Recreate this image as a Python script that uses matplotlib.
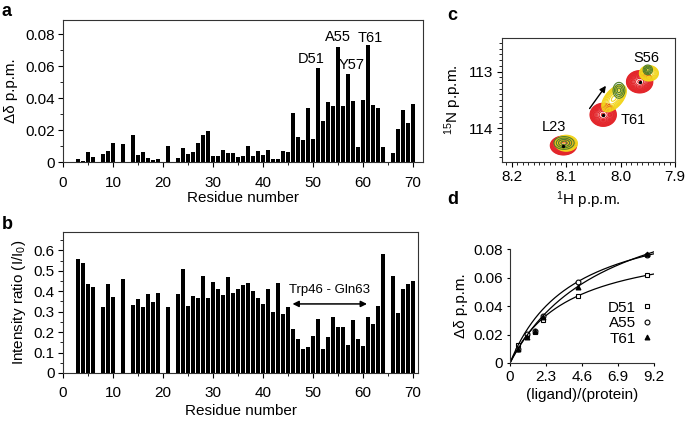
import numpy as np
import matplotlib.pyplot as plt
from matplotlib.ticker import MultipleLocator

plt.rcParams['font.family'] = ['Liberation Sans', 'DejaVu Sans']
plt.rcParams['mathtext.fontset'] = 'custom'
plt.rcParams['mathtext.rm'] = 'Liberation Sans'
plt.rcParams['mathtext.it'] = 'Liberation Sans:italic'
plt.rcParams['font.size'] = 11

# ---- panel a: chemical shift perturbation per residue ----
shift_res = [3, 4, 5, 6, 8, 9, 10, 12, 14, 15, 16, 17, 18, 19, 21, 23, 24, 25, 26, 27,
             28, 29, 30, 31, 32, 33, 34, 35, 36, 37, 38, 39, 40, 41, 42, 43, 44, 45, 46, 47,
             48, 49, 50, 51, 52, 53, 54, 55, 56, 57, 58, 59, 60, 61, 62, 63, 64, 66, 67, 68,
             69, 70]
shift_val = [0.002, 0.0007, 0.006, 0.003, 0.005, 0.007, 0.012, 0.011, 0.017, 0.0045, 0.006,
             0.0025, 0.0015, 0.002, 0.010, 0.0025, 0.0085, 0.005, 0.006, 0.012, 0.017, 0.0195,
             0.0038, 0.004, 0.0075, 0.0057, 0.0057, 0.003, 0.004, 0.010, 0.0035, 0.007, 0.0045,
             0.0073, 0.002, 0.002, 0.0068, 0.0063, 0.0306, 0.0157, 0.014, 0.0337, 0.0145, 0.0587,
             0.0258, 0.0373, 0.0352, 0.0723, 0.0352, 0.0551, 0.0383, 0.0096, 0.039, 0.0731,
             0.0358, 0.0341, 0.0092, 0.0059, 0.0205, 0.0329, 0.0247, 0.0366]
peak_labels = ['D51', 'A55', 'Y57', 'T61']
peak_label_x = [49.7, 55.0, 57.8, 61.5]
peak_label_y = [0.0647, 0.0783, 0.0605, 0.078]

# ---- panel b: intensity ratio per residue ----
ratio_res = [3, 4, 5, 6, 8, 9, 10, 12, 14, 15, 16, 17, 18, 19, 21, 23, 24, 25, 26, 27,
             28, 29, 30, 31, 32, 33, 34, 35, 36, 37, 38, 39, 40, 41, 42, 43, 44, 45, 46, 47,
             48, 49, 50, 51, 52, 53, 54, 55, 56, 57, 58, 59, 60, 61, 62, 63, 64, 66, 67, 68,
             69, 70]
ratio_val = [0.557, 0.536, 0.435, 0.42, 0.325, 0.436, 0.373, 0.462, 0.333, 0.361, 0.322,
             0.389, 0.346, 0.392, 0.325, 0.387, 0.508, 0.328, 0.376, 0.366, 0.475, 0.366,
             0.444, 0.412, 0.384, 0.47, 0.39, 0.41, 0.431, 0.44, 0.399, 0.368, 0.338, 0.412,
             0.30, 0.441, 0.289, 0.322, 0.214, 0.168, 0.119, 0.127, 0.183, 0.266, 0.119, 0.175,
             0.276, 0.224, 0.225, 0.137, 0.261, 0.168, 0.131, 0.276, 0.242, 0.328, 0.58, 0.475,
             0.294, 0.412, 0.436, 0.451]
region_start, region_end, region_y = 45.9, 60.8, 0.338

# ---- panel c: HSQC peaks (1H ppm, 15N ppm, sd H, sd N, correlation) ----
red_peaks = [(8.105, 114.30, 0.0105, 0.072, 0.0),
             (8.032, 113.76, 0.0105, 0.088, 0.0),
             (7.965, 113.18, 0.0105, 0.085, 0.0)]
yellow_peaks = [(8.100, 114.26, 0.0100, 0.068, 0.0),
                (8.012, 113.47, 0.0110, 0.115, 0.55),
                (7.948, 113.03, 0.0085, 0.066, 0.0)]
green_peaks = [(8.104, 114.255, 0.0120, 0.072, 0.0),
               (8.003, 113.33, 0.0070, 0.090, 0.0),
               (7.950, 112.97, 0.0055, 0.055, 0.0)]
spec_colors = ['#e3262b', '#f2d51c', '#4f7f2c']
spec_levels = [np.geomspace(0.07, 0.95, 14), np.geomspace(0.12, 0.9, 8), np.linspace(0.3, 0.9, 4)]
hsqc_labels = ['L23', 'T61', 'S56']
hsqc_label_pos = [(8.123, 113.97), (7.977, 113.85), (7.953, 112.76)]

# ---- panel d: titration ----
ratio = [0.53, 1.06, 1.60, 2.13, 4.32, 8.77]
titr_names = ['D51', 'A55', 'T61']
titr_vals = [[0.0125, 0.020, 0.022, 0.030, 0.047, 0.0616],
             [0.010, 0.0207, 0.0226, 0.033, 0.057, 0.0755],
             [0.010, 0.018, 0.0224, 0.0325, 0.0536, 0.0765]]
fit_dmax = [0.0882, 0.1103, 0.1307]
fit_kd = [3.79, 4.04, 6.21]
titr_markers = ['s', 'o', '^']
titr_faces = ['white', 'white', 'black']

W, H = 685, 422
fig = plt.figure(figsize=(W / 100, H / 100), dpi=100)


def px_axes(left, top, right, bottom):
    return fig.add_axes([left / W, 1 - bottom / H, (right - left) / W, (bottom - top) / H])


def style(ax):
    for s in ax.spines.values():
        s.set_linewidth(0.8)
        s.set_color('#333333')
    ax.tick_params(which='major', direction='out', length=3.5, width=0.8, labelsize=11, pad=2.5)
    ax.tick_params(which='minor', direction='out', length=2, width=0.6)


# a
ax = px_axes(63, 20, 423, 162)
ax.bar(shift_res, shift_val, width=0.68, color='black')
ax.set_xlim(0, 72)
ax.set_ylim(0, 0.089)
ax.set_xticks(range(0, 71, 10))
ax.set_yticks([0, 0.02, 0.04, 0.06, 0.08])
ax.set_yticklabels(['0', '0.02', '0.04', '0.06', '0.08'])
ax.xaxis.set_minor_locator(MultipleLocator(5))
ax.yaxis.set_minor_locator(MultipleLocator(0.01))
style(ax)
ax.tick_params(axis='x', which='major', pad=6.5)
ax.set_xlabel('Residue number', fontsize=11, labelpad=1)
ax.set_ylabel('Δδ p.p.m.', fontsize=11, labelpad=5)
for t, x, y in zip(peak_labels, peak_label_x, peak_label_y):
    ax.text(x, y, t, ha='center', va='center', fontsize=10.5)

# b
ax = px_axes(63, 232, 418, 373)
ax.bar(ratio_res, ratio_val, width=0.68, color='black')
ax.set_xlim(0, 71)
ax.set_ylim(0, 0.69)
ax.set_xticks(range(0, 71, 10))
ax.set_yticks([0, 0.1, 0.2, 0.3, 0.4, 0.5, 0.6])
ax.set_yticklabels(['0', '0.1', '0.2', '0.3', '0.4', '0.5', '0.6'])
ax.xaxis.set_minor_locator(MultipleLocator(5))
ax.yaxis.set_minor_locator(MultipleLocator(0.05))
style(ax)
ax.tick_params(axis='x', which='major', pad=6)
ax.set_xlabel('Residue number', fontsize=11, labelpad=3)
ax.set_ylabel('Intensity ratio (I/I$_0$)', fontsize=11, labelpad=4)
ax.annotate('', xy=(region_start, region_y), xytext=(region_end, region_y),
            arrowprops=dict(arrowstyle='<|-|>', color='black', lw=1.1,
                            mutation_scale=9, shrinkA=0, shrinkB=0))
ax.text((region_start + region_end) / 2, 0.405, 'Trp46 - Gln63', ha='center', va='center',
        fontsize=9.5)

# c
ax = px_axes(502, 38, 675, 162)
hx = np.linspace(7.88, 8.24, 400)
ny = np.linspace(112.3, 114.7, 400)
HX, NY = np.meshgrid(hx, ny)
for peaks, col, lev in zip([red_peaks, yellow_peaks, green_peaks], spec_colors, spec_levels):
    for (h0, n0, sh, sn, rho) in peaks:
        u = (HX - h0) / sh
        v = (NY - n0) / sn
        Z = np.exp(-(u ** 2 - 2 * rho * u * v + v ** 2) / (2 * (1 - rho ** 2)))
        ax.contour(HX, NY, Z, levels=lev, colors=col, linewidths=0.8)
ax.scatter([p[0] for p in red_peaks], [p[1] for p in red_peaks], s=2, color='black', zorder=5)
ax.annotate('', xy=(8.027, 113.25), xytext=(8.057, 113.65),
            arrowprops=dict(arrowstyle='-|>', color='black', lw=1.0, mutation_scale=9,
                            shrinkA=0, shrinkB=0))
for t, (x, y) in zip(hsqc_labels, hsqc_label_pos):
    ax.text(x, y, t, ha='center', va='center', fontsize=10.5)
ax.set_xlim(8.218, 7.9)
ax.set_ylim(114.59, 112.41)
ax.set_xticks([8.2, 8.1, 8.0, 7.9])
ax.set_yticks([113, 114])
ax.xaxis.set_minor_locator(MultipleLocator(0.01))
ax.yaxis.set_minor_locator(MultipleLocator(0.1))
style(ax)
ax.set_xlabel('$^{1}$H p.p.m.', fontsize=11, labelpad=4)
ax.set_ylabel('$^{15}$N p.p.m.', fontsize=11, labelpad=4)

# d
ax = px_axes(510, 249, 654, 363)
xf = np.linspace(0, 9.2, 200)
for name, vals, dm, kd, mk, fc in zip(titr_names, titr_vals, fit_dmax, fit_kd, titr_markers, titr_faces):
    ax.plot(xf, dm * xf / (kd + xf), color='black', lw=0.9)
    ax.plot(ratio, vals, linestyle='none', marker=mk, markersize=3.5, markerfacecolor=fc,
            markeredgecolor='black', markeredgewidth=0.8, label=name)
ax.set_xlim(0, 9.2)
ax.set_ylim(0, 0.08)
ax.set_xticks([0, 2.3, 4.6, 6.9, 9.2])
ax.set_xticklabels(['0', '2.3', '4.6', '6.9', '9.2'])
ax.set_yticks([0, 0.02, 0.04, 0.06, 0.08])
ax.set_yticklabels(['0', '0.02', '0.04', '0.06', '0.08'])
ax.spines['top'].set_visible(False)
ax.spines['right'].set_visible(False)
style(ax)
ax.tick_params(which='major', length=2.5)
ax.set_xlabel('(ligand)/(protein)', fontsize=11, labelpad=3)
ax.set_ylabel('Δδ p.p.m.', fontsize=11, labelpad=4)
ax.legend(loc='center right', bbox_to_anchor=(0.99, 0.35), frameon=False, markerfirst=False,
          handlelength=0.7, handletextpad=0.4, labelspacing=0.1, borderpad=0, borderaxespad=0,
          fontsize=11)

# panel letters
for letter, x, y in [('a', 2, 12), ('b', 2, 224), ('c', 447, 15), ('d', 447, 200)]:
    fig.text(x / W, 1 - y / H, letter, fontsize=13, fontweight='bold', ha='left', va='center')

fig.savefig('out.png', dpi=100)
